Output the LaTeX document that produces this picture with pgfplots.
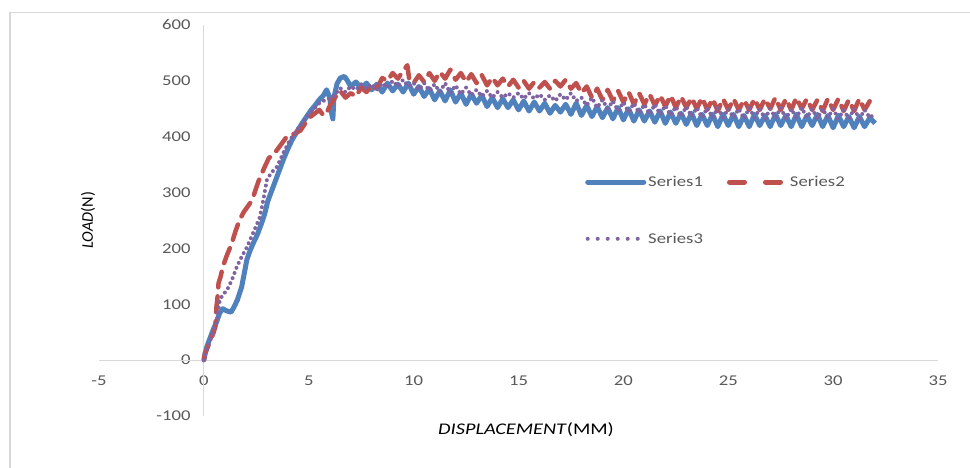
\documentclass[border=0pt]{standalone}
\usepackage{graphicx}
\usepackage{pgfplots}
\pgfplotsset{compat=1.18}
\usepackage{pgfplotstable}
\usepackage{fontspec}
\setmainfont{Carlito}
\definecolor{sone}{HTML}{4F81BD}
\definecolor{stwo}{HTML}{C0504D}
\definecolor{sthree}{HTML}{8064A2}
\definecolor{tickgray}{HTML}{595959}
\definecolor{axisgray}{HTML}{D9D9D9}
\newcommand{\sx}[1]{\scalebox{1.25}[1]{#1}}
\pgfplotstableread{
x y
0 0
0.05 10
0.15 25
0.3 40
0.45 55
0.6 68
0.75 84
0.9 92
1.1 88
1.3 86
1.45 96
1.6 108
1.8 131
1.95 160
2.05 180
2.2 196
2.35 209
2.55 225
2.75 245
2.9 262
3.05 285
3.3 310
3.55 335
3.8 360
4.0 378
4.2 394
4.45 410
4.7 425
4.9 436
5.1 447
5.3 456
5.5 466
5.7 474
5.85 484
6.0 470
6.1 440
6.15 432
6.2 470
6.35 495
6.5 505
6.7 508
6.85 500
7.0 490
7.25 498
7.5 486
7.75 496
8.0 484
8.25 494
8.5 480
8.75 496
9.0 482
9.25 494
9.5 480
9.75 496
10.0 476
10.25 490
10.5 472
10.75 486
11.0 466
11.25 482
11.5 464
11.75 484
12.0 462
12.25 478
12.5 458
12.75 476
13.0 460
13.25 474
13.5 454
13.75 470
14.0 452
14.25 468
14.5 452
14.75 466
15.0 448
15.25 464
15.5 446
15.75 462
16.0 446
16.25 460
16.5 442
16.75 456
17.0 444
17.25 458
17.5 440
17.75 460
18.0 438
18.25 456
18.5 436
18.75 454
19.0 434
19.25 452
19.5 432
19.75 452
20.0 430
20.25 450
20.5 428
20.75 448
21.0 428
21.25 446
21.5 426
21.75 446
22.0 424
22.25 444
22.5 424
22.75 442
23.0 422
23.25 442
23.5 420
23.75 440
24.0 420
24.25 440
24.5 418
24.75 440
25.0 420
25.25 440
25.5 418
25.75 438
26.0 418
26.25 440
26.5 420
26.75 438
27.0 418
27.25 440
27.5 420
27.75 438
28.0 418
28.25 440
28.5 418
28.75 438
29.0 420
29.25 440
29.5 418
29.75 438
30.0 416
30.25 438
30.5 418
30.75 436
31.0 416
31.25 436
31.5 418
31.75 434
32.0 424
}\seriesone
\pgfplotstableread{
x y
0 0
0.05 12
0.15 20
0.3 35
0.45 48
0.55 60
0.6 95
0.65 113
0.7 138
0.8 150
0.9 167
1.1 188
1.33 209
1.5 230
1.7 251
1.9 265
2.2 281
2.35 292
2.6 320
2.9 346
3.1 362
3.3 367
3.6 382
3.95 400
4.3 405
4.6 411
4.85 425
5.05 435
5.3 442
5.5 448
5.7 438
5.85 442
6.0 455
6.25 470
6.5 482
6.75 470
7.0 478
7.25 472
7.5 488
7.75 480
8.0 492
8.25 486
8.5 505
8.75 500
9.0 514
9.25 504
9.5 518
9.7 528
9.8 500
10.0 496
10.25 510
10.5 498
10.75 514
11.0 500
11.25 516
11.5 504
11.75 520
12.0 502
12.25 514
12.5 498
12.75 512
13.0 496
13.25 510
13.5 492
13.75 506
14.0 492
14.25 504
14.5 490
14.75 502
15.0 488
15.25 500
15.5 486
15.75 498
16.0 488
16.25 498
16.5 486
16.75 500
17.0 490
17.25 502
17.5 486
17.75 496
18.0 478
18.25 490
18.5 470
18.75 486
19.0 466
19.25 484
19.5 464
19.75 482
20.0 462
20.25 480
20.5 458
20.75 478
21.0 458
21.25 476
21.5 456
21.75 474
22.0 454
22.25 474
22.5 452
22.75 472
23.0 452
23.25 470
23.5 450
23.75 470
24.0 448
24.25 468
24.5 446
24.75 468
25.0 448
25.25 468
25.5 448
25.75 466
26.0 448
26.25 468
26.5 448
26.75 468
27.0 450
27.25 470
27.5 448
27.75 468
28.0 448
28.25 470
28.5 450
28.75 468
29.0 448
29.25 466
29.5 446
29.75 468
30.0 448
30.25 468
30.5 446
30.75 466
31.0 446
31.25 468
31.5 448
31.75 464
32.0 456
}\seriestwo
\pgfplotstableread{
x y
0 0
0.05 8
0.2 25
0.4 45
0.6 66
0.7 95
0.76 107
0.9 117
1.1 125
1.35 145
1.57 167
1.8 185
2.05 202
2.35 228
2.67 256
2.85 290
3.0 322
3.2 335
3.48 346
3.8 372
4.1 394
4.5 415
4.9 435
5.2 448
5.5 460
5.8 466
6.15 471
6.5 487
6.75 480
7.0 490
7.25 484
7.5 494
7.75 486
8.0 494
8.25 484
8.5 496
8.75 488
9.0 500
9.25 490
9.5 502
9.75 490
10.0 496
10.25 484
10.5 496
10.75 482
11.0 494
11.25 480
11.5 496
11.75 478
12.0 492
12.25 476
12.5 488
12.75 474
13.0 484
13.25 472
13.5 482
13.75 470
14.0 480
14.25 470
14.5 478
14.75 470
15.0 478
15.25 468
15.5 478
15.75 468
16.0 476
16.25 466
16.5 474
16.75 464
17.0 476
17.25 466
17.5 478
17.75 464
18.0 470
18.25 456
18.5 470
18.75 452
19.0 466
19.25 450
19.5 464
19.75 446
20.0 462
20.25 444
20.5 460
20.75 442
21.0 458
21.25 440
21.5 458
21.75 440
22.0 456
22.25 438
22.5 454
22.75 436
23.0 454
23.25 436
23.5 452
23.75 434
24.0 452
24.25 434
24.5 452
24.75 434
25.0 450
25.25 434
25.5 450
25.75 432
26.0 452
26.25 434
26.5 450
26.75 432
27.0 450
27.25 434
27.5 452
27.75 432
28.0 450
28.25 434
28.5 452
28.75 434
29.0 450
29.25 432
29.5 450
29.75 434
30.0 450
30.25 432
30.5 448
30.75 432
31.0 450
31.25 432
31.5 448
31.75 434
32.0 442
}\seriesthree
\begin{document}
\begin{tikzpicture}[x=1bp,y=1bp]
\useasboundingbox (0,0) rectangle (970,468);
\fill[white] (0,0) rectangle (970,468);
\draw[axisgray, line width=1.5bp] (10,0) -- (10,455.5) -- (970,455.5);
\begin{axis}[
  at={(99bp,52bp)}, anchor=south west,
  scale only axis, width=839bp, height=391bp,
  xmin=-5, xmax=35, ymin=-100, ymax=600,
  axis line style={draw=none},
  xtick={-5,0,5,10,15,20,25,30,35},
  ytick={-100,0,100,200,300,400,500,600},
  major tick length=0pt,
  /pgf/number format/assume math mode=true,
  xticklabel={\sx{\pgfmathprintnumber{\tick}}},
  yticklabel={\sx{\pgfmathprintnumber{\tick}}},
  tick label style={font=\fontsize{15}{17}\selectfont, text=tickgray},
  xticklabel style={yshift=44bp},
  yticklabel style={xshift=95bp},
  extra x ticks={0}, extra x tick labels={},
  extra y ticks={0}, extra y tick labels={},
  extra x tick style={grid=major, major grid style={draw=axisgray, line width=1bp}},
  extra y tick style={grid=major, major grid style={draw=axisgray, line width=1bp}},
  xlabel={\sx{\textit{DISPLACEMENT}(MM)}},
  ylabel={\textit{LOAD}(N)},
  label style={font=\fontsize{16.3}{18}\selectfont, text=black},
  xlabel style={at={(axis description cs:0.509,-0.036)}, anchor=center},
  ylabel style={at={(axis description cs:-0.0131,0.501)}, anchor=center},
  legend columns=2,
  legend cell align=left,
  legend style={at={(axis description cs:0.5793,0.619)}, anchor=north west, draw=none, fill=none,
    font=\fontsize{15}{17}\selectfont, text=tickgray, inner sep=0pt,
    /tikz/every even column/.append style={column sep=22bp},
    row sep=41bp},
  legend image code/.code={\draw[#1] (0bp,0bp) -- (56bp,0bp);},
]
\addplot[sone, line width=5bp, line join=round, forget plot] table {\seriesone};
\addplot[stwo, line width=4.5bp, line join=round, line cap=round, dash pattern=on 16bp off 9bp, forget plot] table {\seriestwo};
\addplot[sthree, line width=4bp, line join=round, line cap=round, dash pattern=on 0bp off 5.5bp, forget plot] table {\seriesthree};
\addlegendimage{sone, line width=5bp, line cap=round}
\addlegendentry{\sx{Series1}}
\addlegendimage{stwo, line width=5bp, line cap=round, dash pattern=on 15bp off 21bp}
\addlegendentry{\sx{Series2}}
\addlegendimage{sthree, line width=4bp, line cap=round, dash pattern=on 0bp off 10bp}
\addlegendentry{\sx{Series3}}
\end{axis}
\end{tikzpicture}
\end{document}
